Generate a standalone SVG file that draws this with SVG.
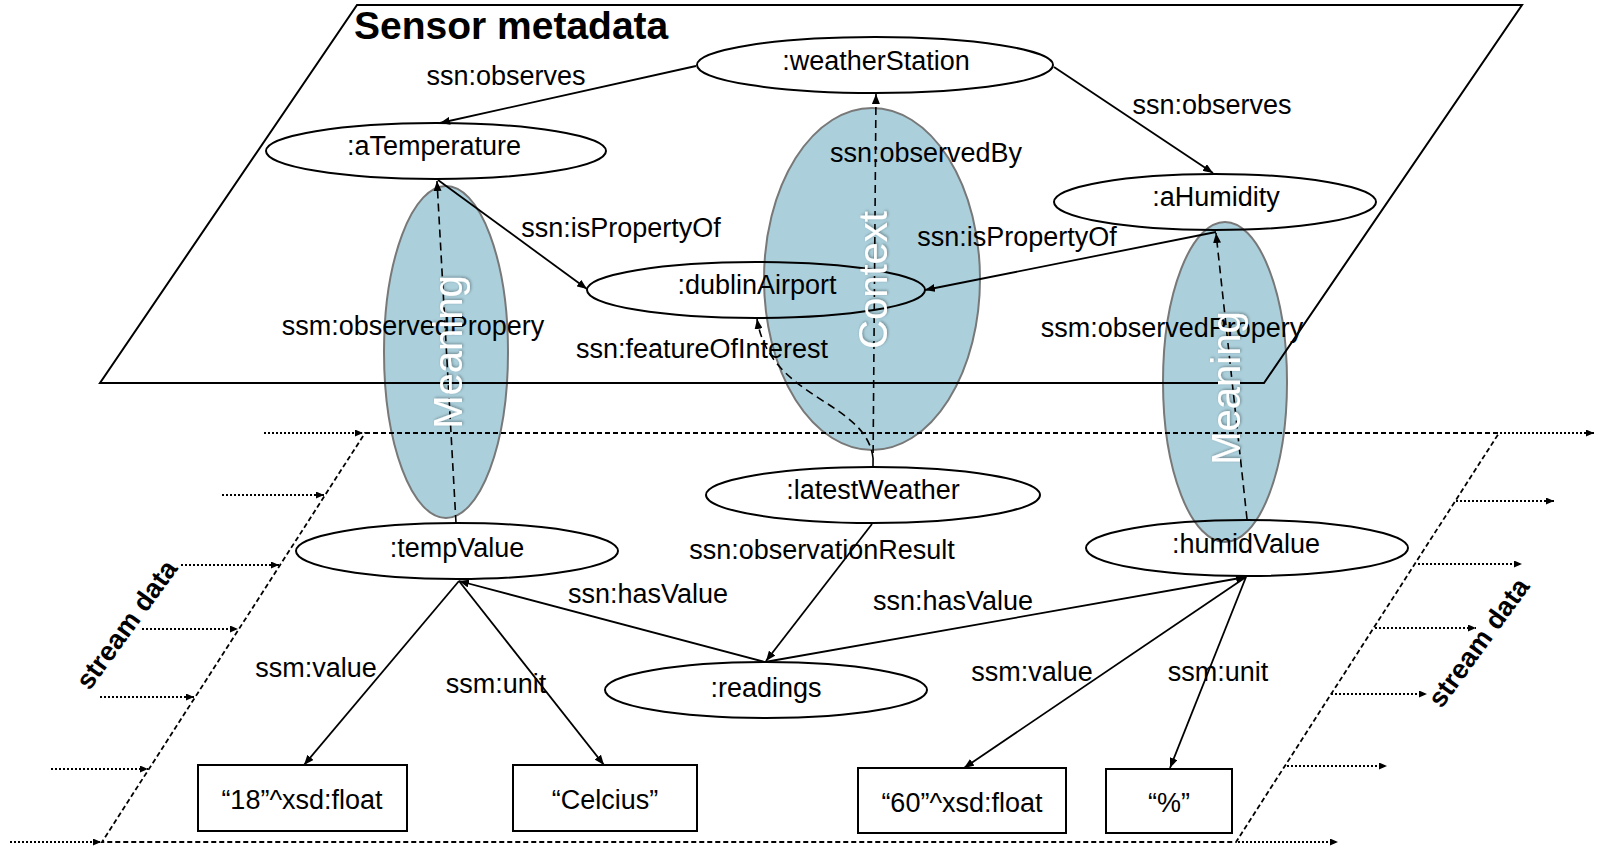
<svg xmlns="http://www.w3.org/2000/svg" width="1599" height="846" viewBox="0 0 1599 846">
  <defs>
    <marker id="arrow" viewBox="0 0 10 8" refX="10" refY="4" markerWidth="10" markerHeight="8" markerUnits="userSpaceOnUse" orient="auto">
      <path d="M0,0 L10,4 L0,8 z" fill="#000"/>
    </marker>
    <marker id="arrowSmall" viewBox="0 0 8 7" refX="8" refY="3.5" markerWidth="8" markerHeight="7" markerUnits="userSpaceOnUse" orient="auto">
      <path d="M0,0 L8,3.5 L0,7 z" fill="#000"/>
    </marker>
    <filter id="softShadow" x="-20%" y="-20%" width="140%" height="140%">
      <feDropShadow dx="1" dy="1" stdDeviation="1.5" flood-color="#000" flood-opacity="0.35"/>
    </filter>
  </defs>
  <style>
    text { font-family: "Liberation Sans", Arial, sans-serif; fill: #000; }
    .lbl { font-size: 27px; text-anchor: middle; }
    .title { font-size: 39px; font-weight: bold; }
    .stream { font-size: 27px; font-weight: bold; text-anchor: middle; }
    .zone { fill: #abd0dc; stroke: #787878; stroke-width: 2; }
    .zoneText { font-size: 40px; fill: #fff; text-anchor: middle; filter: url(#softShadow); }
    .node { fill: none; stroke: #000; stroke-width: 2; }
    .plane { fill: none; stroke: #000; stroke-width: 2; }
    .streamPlane { fill: none; stroke: #000; stroke-width: 1.8; stroke-dasharray: 5 3; }
    .edge { fill: none; stroke: #000; stroke-width: 1.8; marker-end: url(#arrow); }
    .dash { fill: none; stroke: #000; stroke-width: 1.6; stroke-dasharray: 8 5; marker-end: url(#arrow); }
    .flow { fill: none; stroke: #000; stroke-width: 2; stroke-dasharray: 2 2; marker-end: url(#arrowSmall); }
  </style>

  <rect width="1599" height="846" fill="#fff"/>

  <!-- shaded interpretation zones -->
  <g id="zones">
    <ellipse class="zone" cx="446" cy="352" rx="62" ry="166"/>
    <ellipse class="zone" cx="872" cy="279" rx="108" ry="171"/>
    <ellipse class="zone" cx="1225" cy="382" rx="62" ry="160"/>
  </g>

  <!-- metadata plane -->
  <g id="metadata-plane">
    <polygon class="plane" points="357,5 1522,5 1264,383 100,383"/>
    <text class="title" x="354" y="39">Sensor metadata</text>
  </g>

  <!-- stream data plane -->
  <g id="stream-plane">
    <polygon class="streamPlane" points="365,433 1499,433 1236,842 102,842"/>
    <text class="stream" transform="translate(134,630) rotate(-54)">stream data</text>
    <text class="stream" transform="translate(1486,648) rotate(-54)">stream data</text>
  </g>

  <!-- incoming and outgoing stream arrows -->
  <g id="stream-flow">
    <path class="flow" d="M264,433 H363"/>
    <path class="flow" d="M222,495 H324"/>
    <path class="flow" d="M181,565 H279"/>
    <path class="flow" d="M142,629 H238"/>
    <path class="flow" d="M100,697 H194"/>
    <path class="flow" d="M51,769 H148"/>
    <path class="flow" d="M10,842 H101"/>
    <path class="flow" d="M1500,433 H1594"/>
    <path class="flow" d="M1456,501 H1554"/>
    <path class="flow" d="M1418,564 H1522"/>
    <path class="flow" d="M1375,628 H1476"/>
    <path class="flow" d="M1331,694 H1427"/>
    <path class="flow" d="M1287,766 H1387"/>
    <path class="flow" d="M1238,842 H1338"/>
  </g>

  <!-- connectors -->
  <g id="connectors">
    <path class="edge" d="M696,66 L440,123"/>
    <path class="edge" d="M1054,67 L1213,173"/>
    <path class="edge" d="M438,180 L587,289"/>
    <path class="edge" d="M1216,232 L925,290"/>
    <path class="edge" d="M872,524 L766,661"/>
    <path class="edge" d="M765,662 L459,581"/>
    <path class="edge" d="M765,662 L1246,577"/>
    <path class="edge" d="M459,581 L304,765"/>
    <path class="edge" d="M459,581 L604,765"/>
    <path class="edge" d="M1246,577 L964,768"/>
    <path class="edge" d="M1246,577 L1170,768"/>
    <path class="dash" d="M456,523 L437,181"/>
    <path class="dash" d="M873,466 L876,94"/>
    <path class="dash" d="M873,458 C866,400 770,400 757,319"/>
    <path class="dash" d="M1247,519 L1216,233"/>

    <text class="lbl" x="506" y="85">ssn:observes</text>
    <text class="lbl" x="1212" y="114">ssn:observes</text>
    <text class="lbl" x="926" y="162">ssn:observedBy</text>
    <text class="lbl" x="621" y="237">ssn:isPropertyOf</text>
    <text class="lbl" x="1017" y="246">ssn:isPropertyOf</text>
    <text class="lbl" x="413" y="335">ssm:observedPropery</text>
    <text class="lbl" x="1172" y="337">ssm:observedPropery</text>
    <text class="lbl" x="702" y="358">ssn:featureOfInterest</text>
    <text class="lbl" x="822" y="559">ssn:observationResult</text>
    <text class="lbl" x="648" y="603">ssn:hasValue</text>
    <text class="lbl" x="953" y="610">ssn:hasValue</text>
    <text class="lbl" x="316" y="677">ssm:value</text>
    <text class="lbl" x="496" y="693">ssm:unit</text>
    <text class="lbl" x="1032" y="681">ssm:value</text>
    <text class="lbl" x="1218" y="681">ssm:unit</text>
  </g>

  <!-- resource nodes -->
  <g id="weatherStation">
    <ellipse class="node" cx="875" cy="65" rx="178" ry="28"/>
    <text class="lbl" x="876" y="70">:weatherStation</text>
  </g>
  <g id="aTemperature">
    <ellipse class="node" cx="436" cy="151" rx="170" ry="28"/>
    <text class="lbl" x="434" y="155">:aTemperature</text>
  </g>
  <g id="dublinAirport">
    <ellipse class="node" cx="756" cy="290" rx="169" ry="28"/>
    <text class="lbl" x="757" y="294">:dublinAirport</text>
  </g>
  <g id="aHumidity">
    <ellipse class="node" cx="1215" cy="202" rx="161" ry="28"/>
    <text class="lbl" x="1216" y="206">:aHumidity</text>
  </g>
  <g id="latestWeather">
    <ellipse class="node" cx="873" cy="495" rx="167" ry="28"/>
    <text class="lbl" x="873" y="499">:latestWeather</text>
  </g>
  <g id="tempValue">
    <ellipse class="node" cx="457" cy="551" rx="161" ry="28"/>
    <text class="lbl" x="457" y="557">:tempValue</text>
  </g>
  <g id="humidValue">
    <ellipse class="node" cx="1247" cy="548" rx="161" ry="28"/>
    <text class="lbl" x="1246" y="553">:humidValue</text>
  </g>
  <g id="readings">
    <ellipse class="node" cx="766" cy="690" rx="161" ry="28"/>
    <text class="lbl" x="766" y="697">:readings</text>
  </g>
  <g id="tempLiteral">
    <rect class="node" x="198" y="765" width="209" height="66"/>
    <text class="lbl" x="302" y="809">“18”^xsd:float</text>
  </g>
  <g id="tempUnit">
    <rect class="node" x="513" y="765" width="184" height="66"/>
    <text class="lbl" x="605" y="809">“Celcius”</text>
  </g>
  <g id="humidLiteral">
    <rect class="node" x="858" y="768" width="208" height="65"/>
    <text class="lbl" x="962" y="812">“60”^xsd:float</text>
  </g>
  <g id="humidUnit">
    <rect class="node" x="1106" y="769" width="126" height="64"/>
    <text class="lbl" x="1169" y="812">“%”</text>
  </g>

  <!-- zone captions -->
  <g id="zone-labels">
    <text class="zoneText" transform="translate(462,352) rotate(-90)">Meaning</text>
    <text class="zoneText" transform="translate(887,280) rotate(-90)">Context</text>
    <text class="zoneText" transform="translate(1240,388) rotate(-90)">Meaning</text>
  </g>
</svg>
